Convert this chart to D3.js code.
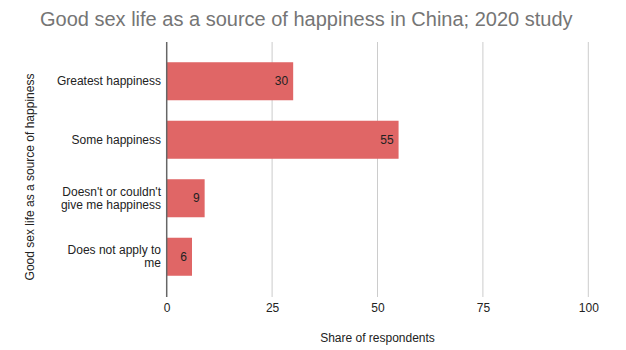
<!DOCTYPE html>
<html><head><meta charset="utf-8">
<script src="https://cdn.jsdelivr.net/npm/d3@7"></script>
<style>body{margin:0;background:#fff}svg{display:block;font-family:"Liberation Sans",Arial,sans-serif}</style>
</head><body><svg id="c" width="626" height="350"></svg>
<script>
const categories = [["Greatest happiness"],["Some happiness"],["Doesn't or couldn't","give me happiness"],["Does not apply to","me"]];
const values = [30,55,9,6];
const xTicks = [0,25,50,75,100];
const titleText = "Good sex life as a source of happiness in China; 2020 study";
const xTitle = "Share of respondents";
const yTitle = "Good sex life as a source of happiness";

const svg = d3.select("#c");
const x = d3.scaleLinear().domain([0,100]).range([166.7,588.3]);
const y = d3.scaleBand().domain(d3.range(categories.length)).range([52,286]).paddingInner(0.35).paddingOuter(0.175);
const plotTop = 42, plotBottom = 297;

svg.append("text").attr("x",40).attr("y",26).attr("font-size",20).attr("fill","#757575").text(titleText);

// gridlines
svg.append("g").selectAll("line").data(xTicks.filter(d=>d!==0)).join("line")
  .attr("x1",d=>x(d)).attr("x2",d=>x(d)).attr("y1",plotTop).attr("y2",plotBottom)
  .attr("stroke","#cccccc").attr("stroke-width",1);

// bars
svg.append("g").selectAll("rect").data(values).join("rect")
  .attr("x",x(0)).attr("y",(d,i)=>y(i)).attr("width",d=>x(d)-x(0)).attr("height",y.bandwidth())
  .attr("fill","#e06666");

// zero axis
svg.append("line").attr("x1",x(0)).attr("x2",x(0)).attr("y1",plotTop).attr("y2",plotBottom).attr("stroke","#666").attr("stroke-width",1.5);

// value labels
svg.append("g").selectAll("text").data(values).join("text")
  .attr("x",d=>x(d)-5).attr("y",(d,i)=>y(i)+y.bandwidth()/2).attr("dy","0.35em")
  .attr("text-anchor","end").attr("font-size",12).attr("fill","#222").text(d=>d);

// category labels
const cl = svg.append("g").selectAll("text").data(categories).join("text")
  .attr("text-anchor","end").attr("font-size",12).attr("fill","#222");
cl.each(function(lines,i){
  const c = y(i)+y.bandwidth()/2;
  const lh = 13;
  const t = d3.select(this);
  lines.forEach((s,k)=>{
    t.append("tspan").attr("x",161).attr("y",c + (k-(lines.length-1)/2)*lh).attr("dy","0.35em").text(s);
  });
});

// x tick labels
const xa = d3.axisBottom(x).tickValues(xTicks).tickSize(0).tickPadding(0);
const gx = svg.append("g").attr("transform",`translate(0,${308})`).call(xa);
gx.select(".domain").remove();
gx.selectAll("text").attr("font-size",12).attr("fill","#222").attr("dy","0.35em").attr("y",0);
gx.attr("font-family",null).attr("font-size",null);

svg.append("text").attr("x",(x(0)+x(100))/2).attr("y",338).attr("dy","0.35em").attr("text-anchor","middle")
  .attr("font-size",12).attr("fill","#222").text(xTitle);
svg.append("text").attr("transform","translate(30,177) rotate(-90)").attr("dy","0.35em").attr("text-anchor","middle")
  .attr("font-size",12).attr("fill","#222").text(yTitle);
</script></body></html>
